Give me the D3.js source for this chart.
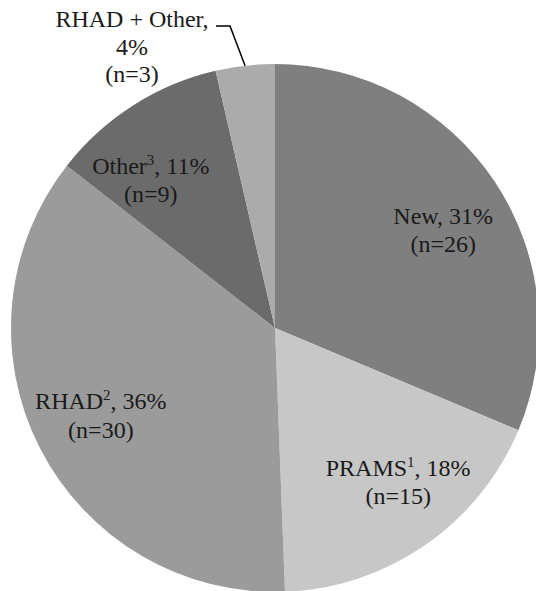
<!DOCTYPE html>
<html>
<head>
<meta charset="utf-8">
<script src="https://cdn.jsdelivr.net/npm/d3@7"></script>
<style>
  html, body { margin: 0; padding: 0; background: #fff; }
</style>
</head>
<body>
<div id="chart"></div>
<script>
// slices, clockwise from 12 o'clock
var names = ['New', 'PRAMS', 'RHAD', 'Other', 'RHAD + Other'];
var notes = ['', '1', '2', '3', ''];
var counts = [26, 15, 30, 9, 3];
var percents = [31, 18, 36, 11, 4];

// look
var colors = ['#7f7f7f', '#c6c7c6', '#9a9b9a', '#6b6b6b', '#aaabaa'];
// nudges from the label centroid (px), last one is placed outside with a leader
var nudges = [[10, 15], [15, 6], [-5, 9], [-22, 20], [0, 0]];

var width = 536, height = 591;
var cx = 275, cy = 328, radius = 264, labelRadius = 190;
var lineGap = 28.5;
var serif = '"Liberation Serif", "Times New Roman", Times, "DejaVu Serif", serif';

var svg = d3.select('#chart').append('svg')
  .attr('width', width)
  .attr('height', height);

var view = svg.append('g')
  .attr('transform', 'translate(' + cx + ',' + cy + ')');

var slices = names.map(function (n, i) {
  return { name: n, note: notes[i], n: counts[i], pct: percents[i], color: colors[i], nudge: nudges[i] };
});

var pie = d3.pie()
  .value(function (d) { return d.n; })
  .sort(null);

var arc = d3.arc().innerRadius(0).outerRadius(radius);
var labelArc = d3.arc().innerRadius(labelRadius).outerRadius(labelRadius);

var arcs = pie(slices);

view.selectAll('path.slice')
  .data(arcs)
  .enter()
  .append('path')
  .attr('class', 'slice')
  .attr('d', arc)
  .attr('fill', function (d) { return d.data.color; });

// labels inside the slices
var inside = arcs.slice(0, 4);

var lbl = view.selectAll('g.lbl')
  .data(inside)
  .enter()
  .append('g')
  .attr('class', 'lbl')
  .attr('transform', function (d) {
    var c = labelArc.centroid(d);
    return 'translate(' + (c[0] + d.data.nudge[0]) + ',' + (c[1] + d.data.nudge[1]) + ')';
  });

lbl.each(function (d) {
  var g = d3.select(this);
  var t = g.append('text')
    .attr('text-anchor', 'middle')
    .attr('y', -lineGap / 2)
    .attr('font-family', serif)
    .attr('font-size', 24)
    .attr('fill', '#1a1a1a');
  t.append('tspan').text(d.data.name);
  if (d.data.note) {
    t.append('tspan').attr('font-size', 15).attr('dy', -9).text(d.data.note);
    t.append('tspan').attr('dy', 9).text(', ' + d.data.pct + '%');
  } else {
    t.append('tspan').text(', ' + d.data.pct + '%');
  }

  g.append('text')
    .attr('text-anchor', 'middle')
    .attr('y', lineGap / 2)
    .attr('font-family', serif)
    .attr('font-size', 24)
    .attr('fill', '#1a1a1a')
    .text('(n=' + d.data.n + ')');
});

// small slice: label outside the pie with an elbow leader
var small = arcs[4];
var mid = (small.startAngle + small.endAngle) / 2;
var edge = [radius * Math.sin(mid), -radius * Math.cos(mid)];
var textX = 132 - cx, textY = 27 - cy;

var out = view.append('text')
  .attr('text-anchor', 'middle')
  .attr('font-family', serif)
  .attr('font-size', 24)
  .attr('fill', '#1a1a1a');

out.append('tspan').attr('x', textX).attr('y', textY).text(small.data.name + ',');
out.append('tspan').attr('x', textX).attr('y', textY + 28).text(small.data.pct + '%');
out.append('tspan').attr('x', textX).attr('y', textY + 55).text('(n=' + small.data.n + ')');

view.append('path')
  .attr('fill', 'none')
  .attr('stroke', '#000')
  .attr('stroke-width', 1.5)
  .attr('d', d3.line()([
    [216 - cx, textY - 1],
    [230 - cx, textY - 1],
    edge
  ]));
</script>
</body>
</html>
